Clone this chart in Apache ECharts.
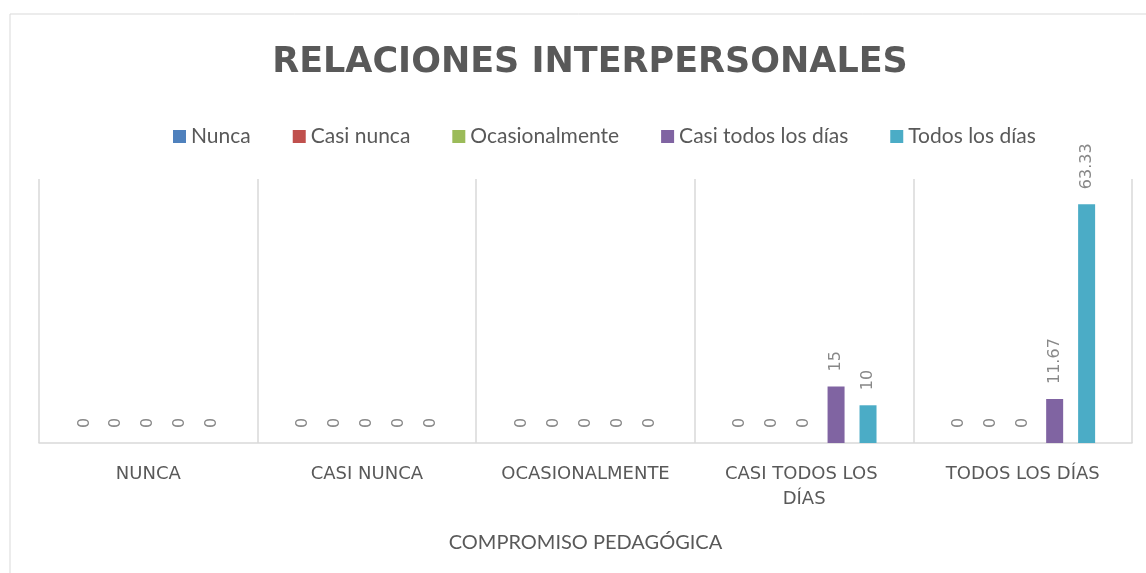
<!DOCTYPE html>
<html>
<head>
<meta charset="utf-8">
<script src="https://cdn.jsdelivr.net/npm/echarts@6/dist/echarts.min.js"></script>
<style>
  html, body { margin: 0; padding: 0; background: #fff; }
  #chart { width: 1146px; height: 573px; }
</style>
</head>
<body>
<div id="chart"></div>
<script>
// categories and series values
const categories = ["NUNCA", "CASI NUNCA", "OCASIONALMENTE", "CASI TODOS LOS DÍAS", "TODOS LOS DÍAS"];
const seriesNames = ["Nunca", "Casi nunca", "Ocasionalmente", "Casi todos los días", "Todos los días"];
const nunca = [0, 0, 0, 0, 0];
const casiNunca = [0, 0, 0, 0, 0];
const ocasionalmente = [0, 0, 0, 0, 0];
const casiTodos = [0, 0, 0, 15, 11.67];
const todos = [0, 0, 0, 10, 63.33];
const seriesData = [nunca, casiNunca, ocasionalmente, casiTodos, todos];
const colors = ["#4f81bd", "#c0504d", "#9bbb59", "#8064a2", "#4bacc6"];

const chart = echarts.init(document.getElementById("chart"));

const option = {
  color: colors,
  backgroundColor: "#fff",
  title: {
    text: "RELACIONES INTERPERSONALES",
    left: 585,
    textAlign: "center",
    top: 40,
    textStyle: {
      color: "#595959",
      fontSize: 35,
      fontWeight: "bold",
      fontFamily: "DejaVu Sans",
    },
  },
  legend: {
    data: seriesNames,
    left: 168,
    top: 121,
    icon: "rect",
    itemWidth: 13,
    itemHeight: 13,
    itemGap: 42,
    textStyle: {
      color: "#595959",
      fontSize: 21,
      fontFamily: "Lato",
    },
  },
  graphic: [
    {
      type: "rect",
      shape: { x: 10, y: 14, width: 1150, height: 580 },
      style: { fill: "none", stroke: "#d9d9d9", lineWidth: 1 },
      silent: true,
    },
  ],
  grid: {
    left: 39,
    right: 14,
    top: 179,
    bottom: 130,
  },
  xAxis: {
    type: "category",
    data: categories,
    name: "COMPROMISO PEDAGÓGICA",
    nameLocation: "middle",
    nameGap: 90,
    nameTextStyle: {
      color: "#595959",
      fontSize: 20,
      fontFamily: "Lato",
    },
    axisLine: { lineStyle: { color: "#d9d9d9", width: 1.5 } },
    axisTick: { show: false },
    axisLabel: {
      interval: 0,
      color: "#595959",
      fontSize: 18,
      fontFamily: "DejaVu Sans",
      margin: 19,
      width: 195,
      overflow: "break",
      lineHeight: 25,
    },
    splitLine: {
      show: true,
      interval: 0,
      lineStyle: { color: "#d9d9d9", width: 1.5 },
    },
  },
  yAxis: {
    type: "value",
    min: 0,
    max: 70,
    show: false,
  },
  series: seriesNames.map((name, i) => ({
    name: name,
    type: "bar",
    data: seriesData[i],
    barWidth: 17,
    barGap: "88%",
    label: {
      show: true,
      position: "top",
      rotate: 90,
      align: "left",
      verticalAlign: "middle",
      distance: 15,
      color: "#888",
      fontSize: 16,
      fontFamily: "DejaVu Sans",
    },
  })),
};

chart.setOption(option);
</script>
</body>
</html>
